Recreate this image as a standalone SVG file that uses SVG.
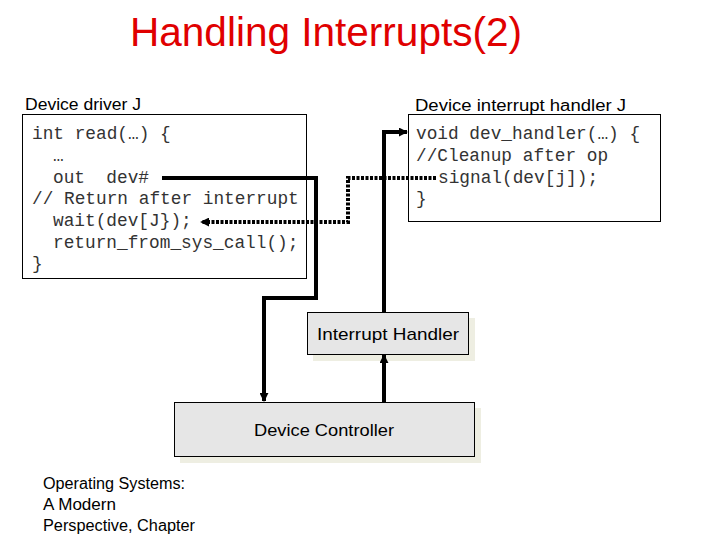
<svg xmlns="http://www.w3.org/2000/svg" width="720" height="540" viewBox="0 0 720 540">
<style>
.sans{font-family:"Liberation Sans",Arial,sans-serif;fill:#000}
.mono{font-family:"Liberation Mono","Courier New",monospace;font-size:17.8px;fill:#333}
.code{fill:#fff;stroke:#000;stroke-width:1}
.blk{fill:#e6e6e6;stroke:#000;stroke-width:1}
.shd{fill:#eeeee2}
.wire{fill:none;stroke:#000;stroke-width:4}
.dot{fill:none;stroke:#000;stroke-width:4;stroke-dasharray:3 1.5}
</style>
<defs>
<marker id="ah" viewBox="0 0 10 10" refX="9" refY="5" markerWidth="9" markerHeight="9" markerUnits="userSpaceOnUse" orient="auto">
<path d="M0,0 L10,5 L0,10 z" fill="#000"/>
</marker>
</defs>
<rect width="720" height="540" fill="#fff"/>
<text class="sans" x="130" y="46" font-size="40" style="fill:#e00000" textLength="392" lengthAdjust="spacingAndGlyphs">Handling Interrupts(2)</text>

<g id="driver">
<text class="sans" x="25" y="110" font-size="16" textLength="116" lengthAdjust="spacingAndGlyphs">Device driver J</text>
<rect class="code" x="22.5" y="114.5" width="284" height="164"/>
<text class="mono" xml:space="preserve"><tspan x="32" y="139">int read(…) {</tspan><tspan x="53" y="161">…</tspan><tspan x="53" y="183">out  dev#</tspan><tspan x="32" y="204">// Return after interrupt</tspan><tspan x="53" y="226">wait(dev[J});</tspan><tspan x="53" y="248">return_from_sys_call();</tspan><tspan x="32" y="269">}</tspan></text>
</g>

<g id="handler">
<text class="sans" x="415" y="111" font-size="16" textLength="211" lengthAdjust="spacingAndGlyphs">Device interrupt handler J</text>
<rect class="code" x="408.5" y="114.5" width="252" height="107"/>
<text class="mono" xml:space="preserve"><tspan x="416" y="139">void dev_handler(…) {</tspan><tspan x="416" y="161">//Cleanup after op</tspan><tspan x="438" y="183">signal(dev[j]);</tspan><tspan x="416" y="204">}</tspan></text>
</g>

<g id="interrupt-handler">
<rect class="shd" x="313" y="318" width="162" height="43"/>
<rect class="blk" x="307.5" y="312.5" width="161" height="42"/>
<text class="sans" x="388" y="340" font-size="17" text-anchor="middle" textLength="142" lengthAdjust="spacingAndGlyphs">Interrupt Handler</text>
</g>

<g id="device-controller">
<rect class="shd" x="180" y="408" width="301" height="55"/>
<rect class="blk" x="174.5" y="402.5" width="300" height="54"/>
<text class="sans" x="324" y="436" font-size="17" text-anchor="middle" textLength="140" lengthAdjust="spacingAndGlyphs">Device Controller</text>
</g>

<g id="connectors">
<polyline class="wire" points="162,178 316,178 316,298 264,298 264,401" marker-end="url(#ah)"/>
<polyline class="wire" points="384,402 384,355" marker-end="url(#ah)"/>
<polyline class="wire" points="384,312 384,132 407,132" marker-end="url(#ah)"/>
<polyline class="dot" points="436,178 348,178 348,222 201,222" marker-end="url(#ah)"/>
</g>

<g id="footer">
<text class="sans" font-size="16"><tspan x="43" y="489" textLength="142" lengthAdjust="spacingAndGlyphs">Operating Systems:</tspan><tspan x="43" y="510" textLength="73" lengthAdjust="spacingAndGlyphs">A Modern</tspan><tspan x="43" y="531" textLength="152" lengthAdjust="spacingAndGlyphs">Perspective, Chapter</tspan></text>
</g>
</svg>
